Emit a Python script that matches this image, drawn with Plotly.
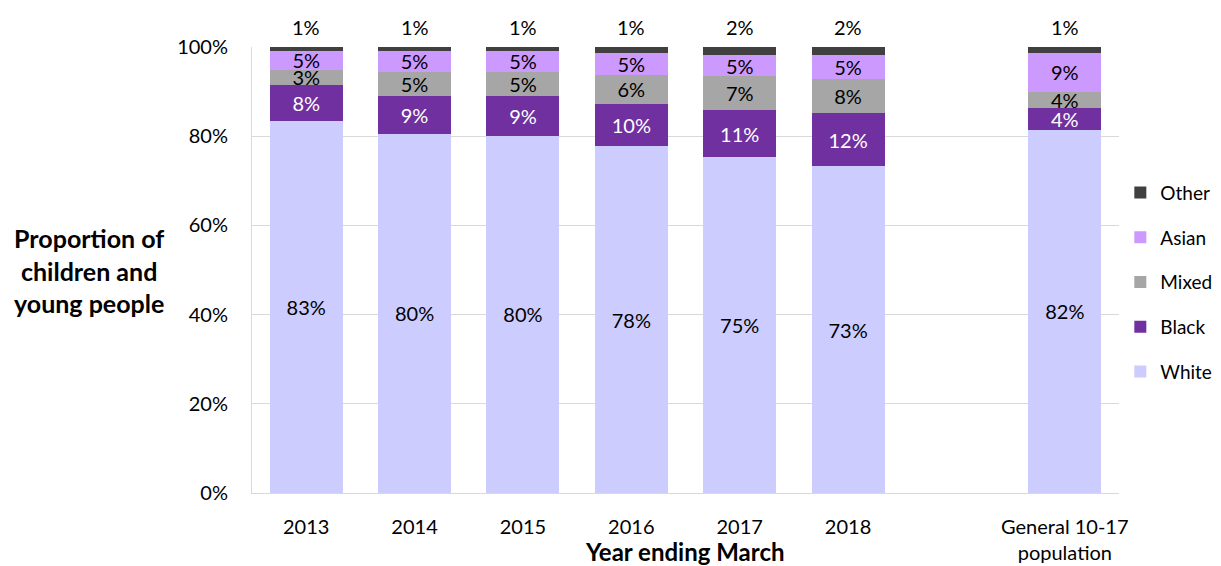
import plotly.graph_objects as go

categories = ["2013", "2014", "2015", "2016", "2017", "2018", "General 10-17<br>population"]
positions = [0, 1, 2, 3, 4, 5, 7]

white = [83.4, 80.5, 80.1, 77.7, 75.3, 73.3, 81.5]
black = [8.1, 8.5, 9.0, 9.5, 10.5, 11.9, 4.8]
mixed = [3.4, 5.4, 5.4, 6.6, 7.6, 7.6, 3.7]
asian = [4.25, 4.7, 4.7, 4.9, 4.9, 5.3, 8.7]
other = [0.9, 0.9, 0.9, 1.25, 1.7, 1.86, 1.25]

white_lbl = ["83%", "80%", "80%", "78%", "75%", "73%", "82%"]
black_lbl = ["8%", "9%", "9%", "10%", "11%", "12%", "4%"]
mixed_lbl = ["3%", "5%", "5%", "6%", "7%", "8%", "4%"]
asian_lbl = ["5%", "5%", "5%", "5%", "5%", "5%", "9%"]
other_lbl = ["1%", "1%", "1%", "1%", "2%", "2%", "1%"]

y_ticks = [0, 20, 40, 60, 80, 100]
y_tick_text = ["0%", "20%", "40%", "60%", "80%", "100%"]

FONT = "Lato, 'Open Sans', sans-serif"

# (name, values, labels, colour, label colour, labelled inside, legend rank)
series = [
    ("White", white, white_lbl, "#ccccff", "black", True, 5),
    ("Black", black, black_lbl, "#7030a0", "white", True, 4),
    ("Mixed", mixed, mixed_lbl, "#a6a6a6", "black", True, 3),
    ("Asian", asian, asian_lbl, "#cc99ff", "black", True, 2),
    ("Other", other, other_lbl, "#404040", "black", False, 1),
]

fig = go.Figure()
for name, vals, lbls, color, tcolor, inside, rank in series:
    fig.add_trace(go.Bar(
        x=positions, y=vals, name=name, legendgroup=name, legendrank=rank,
        marker=dict(color=color, line=dict(width=0)),
        text=lbls if inside else None,
        textposition="inside" if inside else "none",
        insidetextanchor="middle",
        textangle=0,
        constraintext="none",
        textfont=dict(color=tcolor, size=20, family=FONT),
        hoverinfo="skip",
    ))

tops = [min(w + b + m + a + o, 100) for w, b, m, a, o in zip(white, black, mixed, asian, other)]
annotations = [
    dict(x=p, y=t, text=l, xref="x", yref="y", showarrow=False,
         yanchor="bottom", yshift=6, font=dict(size=20, family=FONT, color="black"))
    for p, t, l in zip(positions, tops, other_lbl)
]
annotations += [
    dict(text="<b>Proportion of<br>children and<br>young people</b>",
         xref="paper", yref="paper", x=-0.188, y=0.5, xanchor="center", yanchor="middle",
         showarrow=False, align="center", font=dict(size=25, family=FONT)),
    dict(text="<b>Year ending March</b>", xref="paper", yref="paper",
         x=0.499, y=-0.168, xanchor="center", yanchor="bottom",
         showarrow=False, font=dict(size=24, family=FONT)),
]

fig.update_layout(
    barmode="stack",
    bargap=0.327,
    width=1213, height=558,
    margin=dict(l=244, r=102, t=39, b=73, autoexpand=False),
    plot_bgcolor="white", paper_bgcolor="white",
    font=dict(family=FONT, size=20, color="black"),
    uniformtext=dict(minsize=20, mode="show"),
    legend=dict(
        traceorder="grouped", xref="container", yref="container",
        x=0.917, y=0.703, xanchor="left", yanchor="top",
        font=dict(size=19, family=FONT), tracegroupgap=17,
        itemwidth=30,
    ),
    xaxis=dict(
        tickmode="array", tickvals=positions, ticktext=categories,
        range=[-0.5, 7.5], showline=True, linecolor="#d9d9d9", linewidth=1,
        ticks="", showgrid=False, tickfont=dict(size=20, family=FONT),
        ticklabelstandoff=16, automargin=False,
    ),
    yaxis=dict(
        range=[0, 100], tickmode="array", tickvals=y_ticks, ticktext=y_tick_text,
        showgrid=True, gridcolor="#d9d9d9", gridwidth=1,
        showline=True, linecolor="#d9d9d9", linewidth=1, zeroline=False,
        ticks="", tickfont=dict(size=20, family=FONT), ticklabelstandoff=19,
        automargin=False,
    ),
    annotations=annotations,
)

fig.write_html("out.html")
